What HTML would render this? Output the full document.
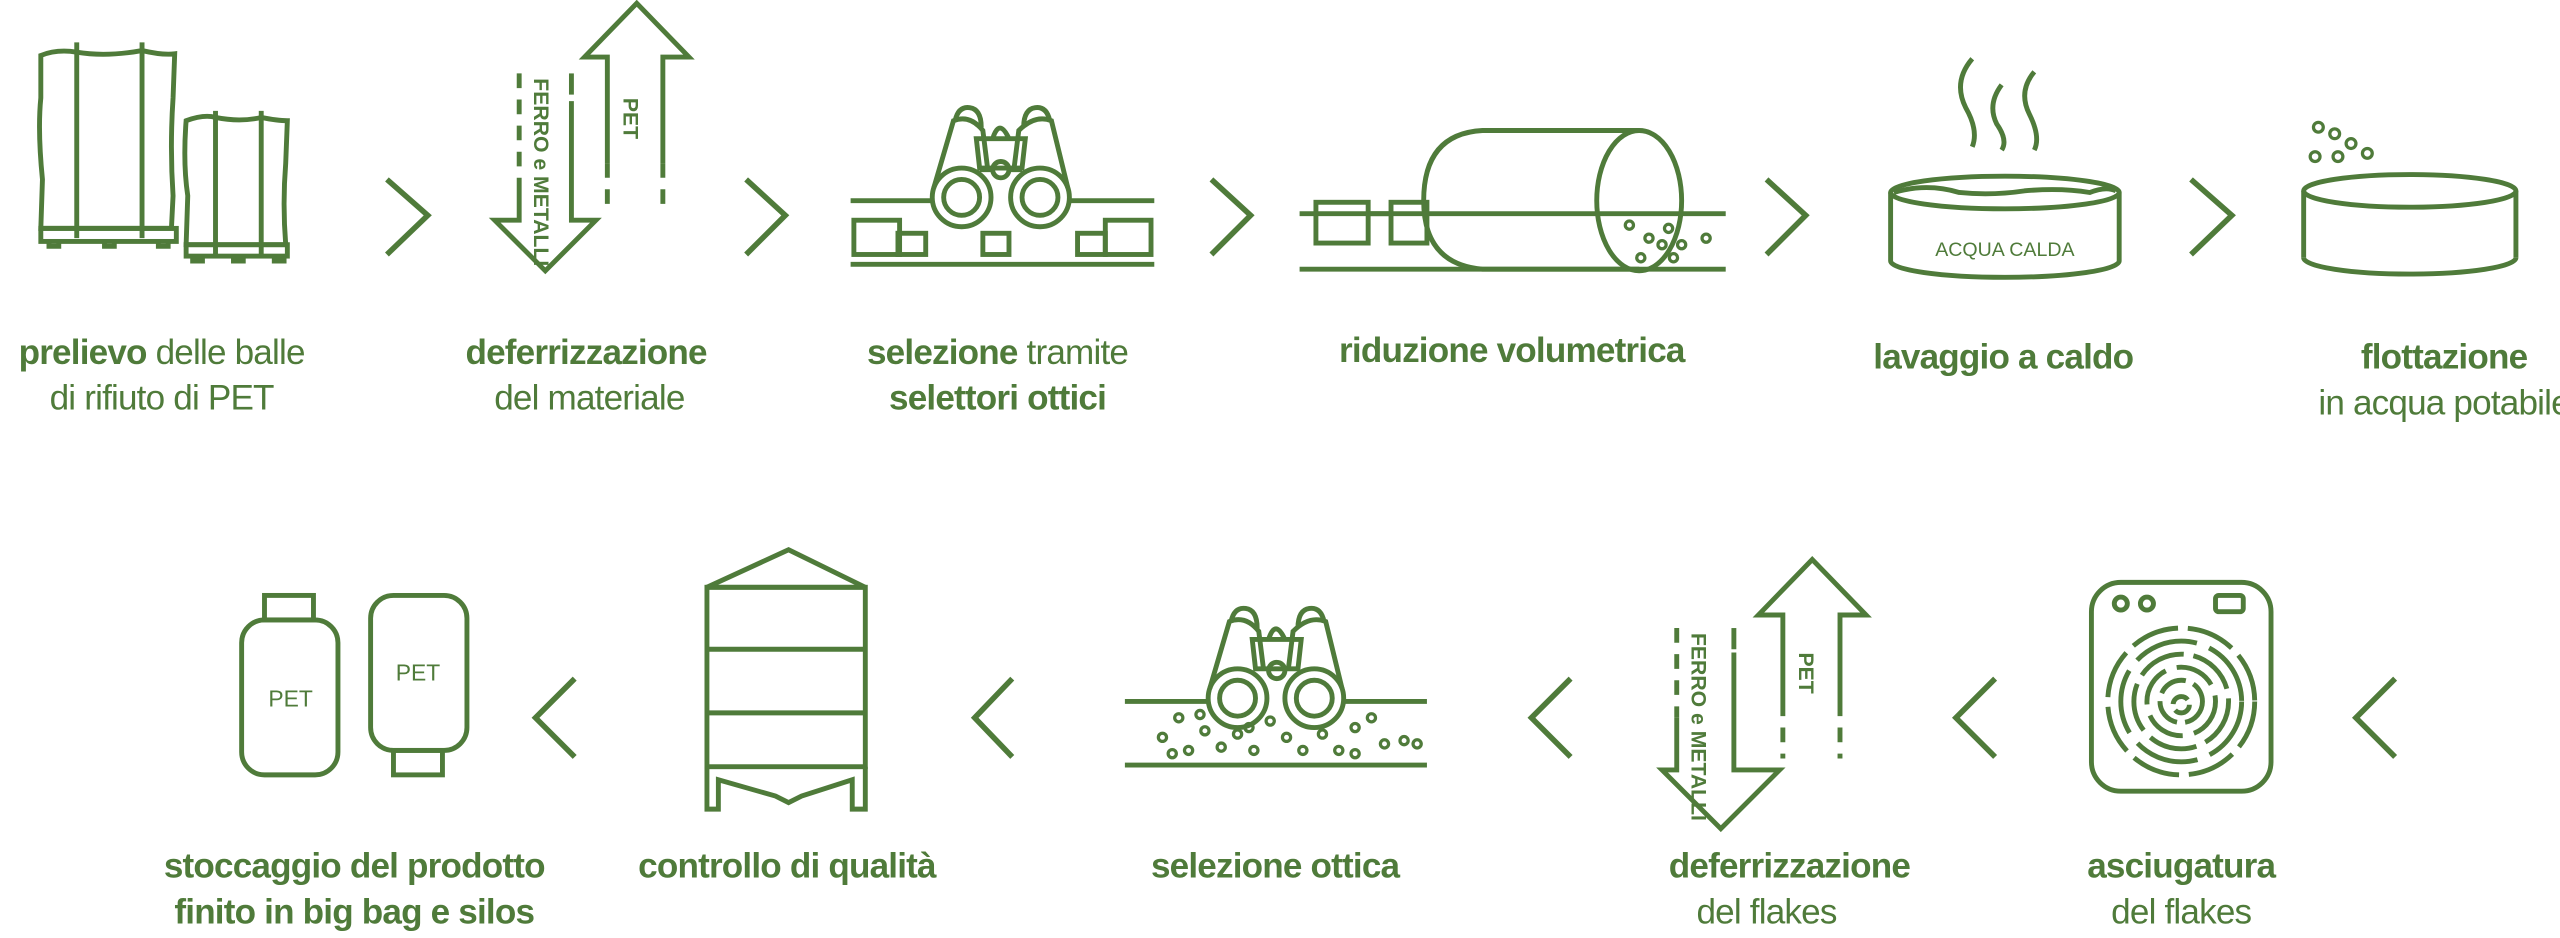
<!DOCTYPE html>
<html><head><meta charset="utf-8"><style>
html,body{margin:0;padding:0;background:#fff;}
svg{display:block;}
text{font-family:"Liberation Sans",sans-serif;fill:#4f7b3a;}
.b{font-weight:bold;font-size:21.5px;letter-spacing:-0.5px;}
.r{font-size:21.5px;letter-spacing:-0.5px;}
</style></head><body>
<svg width="2560" height="938" viewBox="0 0 1568 575" preserveAspectRatio="none" xmlns="http://www.w3.org/2000/svg">
<g fill="none" stroke="#4f7b3a" stroke-width="3" stroke-linejoin="miter">
<!-- bales -->
<path d="M25,34 Q35,30 47,32 Q65,35 87,31 Q100,34 107,33 L106,60 Q104,90 106,120 L105,140 L25,140 L26,110 Q23,80 25,60 Z"/>
<path d="M47,26 V146 M87,26 V146"/>
<rect x="25" y="140" width="83" height="8"/>
<path d="M30,148v3h6v-3 M64,148v3h6v-3 M97,148v3h6v-3"/>
<path d="M114,74 Q125,70 132,72 Q147,75 160,72 Q170,74 176,74 L175,100 Q173,125 175,150 L114,150 L115,120 Q112,100 114,74 Z"/>
<path d="M132,68 V157 M160,68 V157"/>
<rect x="114" y="150" width="62" height="7"/>
<path d="M118,157v3h6v-3 M143,157v3h6v-3 M168,157v3h6v-3"/>
<!-- chevrons row 1 -->
<path d="M237,110 L262,132 L237,156 M457,110 L481,132 L457,156 M742,110 L766,132 L742,156 M1082,110 L1106,132 L1082,156 M1342,110 L1367,132 L1342,156" stroke-width="3.4"/>
<!-- deferrizzazione 1 -->
<path d="M318,45 V110" stroke-dasharray="9 7"/>
<path d="M318,110 V135 H303 L334,166 L365,135 H350 V62"/>
<path d="M350,45 V58" />
<path d="M372,100 V35 H358 L390,2 L422,35 H406 V100"/>
<path d="M372,100 V125 M406,100 V125" stroke-dasharray="9 7"/>
<!-- binoculars 1 -->
<path d="M521,123 H571 M655,123 H707 M521,162 H707"/>
<rect x="523" y="135" width="28" height="21"/><rect x="550" y="143" width="17" height="13"/>
<rect x="602" y="143" width="16" height="13"/>
<rect x="660" y="143" width="17" height="13"/><rect x="677" y="135" width="28" height="21"/>
<circle cx="589" cy="121" r="18"/><circle cx="589" cy="121" r="11"/>
<circle cx="637" cy="121" r="18"/><circle cx="637" cy="121" r="11"/>
<path d="M572,115 L584,74 Q594,70 602,80 L605,104 M654,115 L644,74 Q634,70 624,80 L621,104"/>
<path d="M585,74 Q587,65 594,66 Q601,67 601,78 M643,74 Q641,65 634,66 Q627,67 627,78"/>
<path d="M598,85 H628 L626,103 H600 Z M608,85 Q612,72 618,85"/>
<circle cx="613" cy="104" r="5"/><path d="M607,104 H600 M619,104 H626"/>
<!-- cylinder -->
<path d="M796,131 H1057 M796,165 H1057"/>
<rect x="806" y="124" width="32" height="25"/><rect x="852" y="124" width="22" height="25"/>
<path d="M838,131 H852"/>
<path d="M1004,80 H908 Q872,82 872,123 Q872,162 908,165 H1004"/>
<ellipse cx="1004" cy="123" rx="26" ry="43"/>
<!-- tub 1 -->
<path d="M1158,118 V160 M1298,118 V160"/>
<ellipse cx="1228" cy="118" rx="70" ry="10"/>
<path d="M1158,160 A70,10 0 0 0 1298,160"/>
<path d="M1160,118 Q1180,112 1200,118 Q1220,120 1240,117 Q1262,115 1280,118 Q1290,114 1296,117"/>
<path d="M1208,36 Q1196,50 1204,66 Q1212,80 1208,90 M1226,52 Q1217,64 1223,76 Q1230,86 1226,92 M1246,44 Q1236,56 1243,70 Q1250,84 1246,92"/>
<!-- tub 2 -->
<path d="M1411,117 V158 M1541,117 V158"/>
<ellipse cx="1476" cy="117" rx="65" ry="10"/>
<path d="M1411,158 A65,10 0 0 0 1541,158"/>
<!-- chevrons row 2 -->
<path d="M1467,416 L1443,440 L1467,464 M1222,416 L1198,440 L1222,464 M962,416 L938,440 L962,464 M620,416 L597,440 L620,464 M352,416 L328,440 L352,464" stroke-width="3.4"/>
<!-- dryer -->
<rect x="1281" y="357" width="110" height="128" rx="18"/>
<circle cx="1299" cy="370" r="4"/><circle cx="1315" cy="370" r="4"/>
<rect x="1357" y="365" width="17" height="10" rx="2"/>
<g stroke-dasharray="30 6">
<circle cx="1336" cy="430" r="45"/><circle cx="1336" cy="430" r="37" stroke-dasharray="40 8"/>
<circle cx="1336" cy="430" r="29"/><circle cx="1336" cy="430" r="21" stroke-dasharray="25 7"/>
<circle cx="1336" cy="430" r="13" stroke-dasharray="18 5"/><circle cx="1336" cy="432" r="5" stroke-dasharray="12 4"/>
</g>
<!-- deferrizzazione 2 -->
<path d="M1027,385 V440" stroke-dasharray="9 7"/>
<path d="M1027,440 V472 H1018 L1054,508 L1090,472 H1062 V400"/>
<path d="M1062,385 V398"/>
<path d="M1092,430 V377 H1077 L1110,343 L1143,377 H1127 V430"/>
<path d="M1092,430 V465 M1127,430 V465" stroke-dasharray="9 7"/>
<!-- binoculars 2 -->
<path d="M689,430 H740 M822,430 H874 M689,469 H874"/>
<circle cx="758" cy="428" r="18"/><circle cx="758" cy="428" r="11"/>
<circle cx="805" cy="428" r="18"/><circle cx="805" cy="428" r="11"/>
<path d="M741,422 L753,381 Q763,377 771,387 L774,411 M822,422 L812,381 Q802,377 792,387 L789,411"/>
<path d="M754,381 Q756,372 763,373 Q770,374 770,385 M811,381 Q809,372 802,373 Q795,374 795,385"/>
<path d="M767,392 H797 L795,410 H769 Z M777,392 Q781,379 787,392"/>
<circle cx="782" cy="411" r="5"/>
<!-- silo -->
<path d="M433,360 L483,337 L530,360 Z"/>
<rect x="433" y="360" width="97" height="110"/>
<path d="M433,398 H530 M433,437 H530"/>
<path d="M433,470 V496 H440 V478 L475,488 L483,492 L491,488 L522,478 V496 H530 V470"/>
<!-- bottles -->
<rect x="148" y="380" width="59" height="95" rx="14"/>
<rect x="162" y="365" width="30" height="15"/>
<rect x="227" y="365" width="59" height="95" rx="14"/>
<rect x="241" y="460" width="30" height="15"/>
</g>
<!-- flakes -->
<g fill="none" stroke="#4f7b3a" stroke-width="2">
<circle cx="998" cy="138" r="2.5"/><circle cx="1010" cy="146" r="2.5"/><circle cx="1022" cy="140" r="2.5"/><circle cx="1030" cy="150" r="2.5"/><circle cx="1045" cy="146" r="2.5"/><circle cx="1005" cy="158" r="2.5"/><circle cx="1025" cy="158" r="2.5"/><circle cx="1018" cy="150" r="2.5"/>
<circle cx="1420" cy="78" r="3"/><circle cx="1430" cy="82" r="3"/><circle cx="1418" cy="96" r="3"/><circle cx="1432" cy="96" r="3"/><circle cx="1440" cy="88" r="3"/><circle cx="1450" cy="94" r="3"/>
<circle cx="712" cy="452" r="2.5"/><circle cx="722" cy="440" r="2.5"/><circle cx="728" cy="460" r="2.5"/><circle cx="738" cy="448" r="2.5"/><circle cx="748" cy="458" r="2.5"/><circle cx="758" cy="450" r="2.5"/><circle cx="768" cy="460" r="2.5"/><circle cx="778" cy="442" r="2.5"/><circle cx="788" cy="452" r="2.5"/><circle cx="798" cy="460" r="2.5"/><circle cx="810" cy="450" r="2.5"/><circle cx="820" cy="460" r="2.5"/><circle cx="830" cy="446" r="2.5"/><circle cx="840" cy="440" r="2.5"/><circle cx="848" cy="456" r="2.5"/><circle cx="860" cy="454" r="2.5"/><circle cx="718" cy="462" r="2.5"/><circle cx="735" cy="438" r="2.5"/><circle cx="765" cy="446" r="2.5"/><circle cx="830" cy="462" r="2.5"/><circle cx="868" cy="456" r="2.5"/>
</g>
<!-- rotated arrow labels -->
<text transform="translate(327,48) rotate(90)" font-size="13" font-weight="bold">FERRO e METALLI</text>
<text transform="translate(382,60) rotate(90)" font-size="13" font-weight="bold">PET</text>
<text transform="translate(1036,388) rotate(90)" font-size="13" font-weight="bold">FERRO e METALLI</text>
<text transform="translate(1102,400) rotate(90)" font-size="13" font-weight="bold">PET</text>
<text x="1228" y="157" font-size="12" text-anchor="middle">ACQUA CALDA</text>
<text x="178" y="433" font-size="14" text-anchor="middle">PET</text>
<text x="256" y="417" font-size="14" text-anchor="middle">PET</text>
<!-- labels -->
<text x="99" y="223" text-anchor="middle" class="r"><tspan font-weight="bold">prelievo</tspan> delle balle</text>
<text x="99" y="251" text-anchor="middle" class="r">di rifiuto di PET</text>
<text x="359" y="223" text-anchor="middle" class="b">deferrizzazione</text>
<text x="361" y="251" text-anchor="middle" class="r">del materiale</text>
<text x="611" y="223" text-anchor="middle" class="r"><tspan font-weight="bold">selezione</tspan> tramite</text>
<text x="611" y="251" text-anchor="middle" class="b">selettori ottici</text>
<text x="926" y="222" text-anchor="middle" class="b">riduzione volumetrica</text>
<text x="1227" y="226" text-anchor="middle" class="b">lavaggio a caldo</text>
<text x="1497" y="226" text-anchor="middle" class="b">flottazione</text>
<text x="1497" y="254" text-anchor="middle" class="r">in acqua potabile</text>
<text x="217" y="538" text-anchor="middle" class="b">stoccaggio del prodotto</text>
<text x="217" y="566" text-anchor="middle" class="b">finito in big bag e silos</text>
<text x="482" y="538" text-anchor="middle" class="b">controllo di qualità</text>
<text x="781" y="538" text-anchor="middle" class="b">selezione ottica</text>
<text x="1096" y="538" text-anchor="middle" class="b">deferrizzazione</text>
<text x="1082" y="566" text-anchor="middle" class="r">del flakes</text>
<text x="1336" y="538" text-anchor="middle" class="b">asciugatura</text>
<text x="1336" y="566" text-anchor="middle" class="r">del flakes</text>
</svg>
</body></html>
